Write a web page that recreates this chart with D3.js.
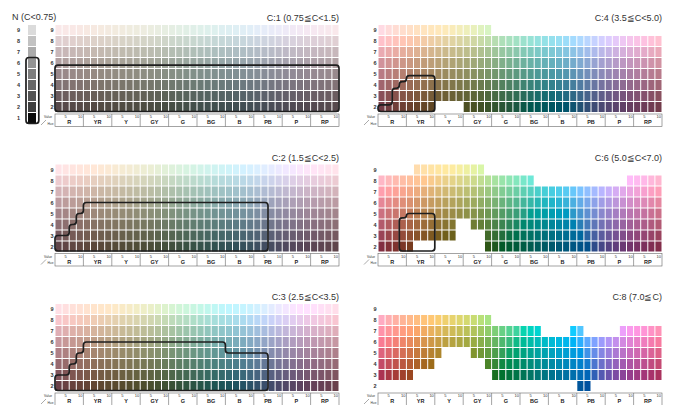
<!DOCTYPE html>
<html>
<head>
<meta charset="utf-8">
<script src="https://cdn.jsdelivr.net/npm/d3@7"></script>
<style>
  body { margin: 0; background: #fff; }
  svg { display: block; font-family: "Liberation Sans", Arial, sans-serif; }
</style>
</head>
<body>
<svg id="chart" width="674" height="405"></svg>
<script>
// ---- Munsell hue circle: 10 families x 4 steps (2.5, 5, 7.5, 10) ----
const families = ["R", "YR", "Y", "GY", "G", "BG", "B", "PB", "P", "RP"];
const hueSteps = ["2.5", "5", "7.5", "10"];
const values = [9, 8, 7, 6, 5, 4, 3, 2];
const neutralValues = [9, 8, 7, 6, 5, 4, 3, 2, 1];

// approximate CIELAB hue angle of each hue column, 2.5R ... 10RP
const hueAngles = [
  12, 22, 31, 40,     // R
  49, 58, 66, 73,     // YR
  80, 87, 92, 98,     // Y
  104, 110, 119, 128, // GY
  138, 148, 156, 164, // G
  174, 184, 194, 204, // BG
  213, 222, 231, 242, // B
  254, 266, 278, 290, // PB
  300, 310, 320, 330, // P
  338, 345, 355, 4    // RP
];

// ---- chroma panels ----
const panelTitles = ["C:1 (0.75≦C<1.5)", "C:2 (1.5≦C<2.5)", "C:3 (2.5≦C<3.5)",
                     "C:4 (3.5≦C<5.0)", "C:6 (5.0≦C<7.0)", "C:8 (7.0≦C)"];
const panelChroma = [1, 2, 3, 4, 6, 8];

// cells present for each value: inclusive hue-column ranges
const full = [[0, 39]];
const cellsC1 = {9: full, 8: full, 7: full, 6: full, 5: full, 4: full, 3: full, 2: full};
const cellsC2 = {9: full, 8: full, 7: full, 6: full, 5: full, 4: full, 3: full, 2: full};
const cellsC3 = {9: full, 8: full, 7: full, 6: full, 5: full, 4: full, 3: full, 2: full};
const cellsC4 = {9: [[0, 15]], 8: full, 7: full, 6: full, 5: full, 4: full, 3: full,
                 2: [[0, 7], [12, 39]]};
const cellsC6 = {9: [[5, 14]], 8: [[0, 21], [35, 39]], 7: full, 6: full, 5: full,
                 4: [[0, 10], [13, 39]], 3: [[0, 10], [15, 39]], 2: [[0, 4], [15, 39]]};
const cellsC8 = {8: [[0, 15]], 7: [[0, 22], [27, 28], [34, 39]], 6: full,
                 5: [[0, 8], [13, 39]], 4: [[0, 7], [15, 39]], 3: [[0, 4], [16, 39]],
                 2: [[28, 29]]};
const panelCells = [cellsC1, cellsC2, cellsC3, cellsC4, cellsC6, cellsC8];

// outlined region: [from column, to column (exclusive), upper value]
const outlineC1 = [[0, 40, 5.8]];
const outlineC2 = [[0, 2, 3], [2, 3, 4], [3, 4, 5], [4, 30, 6]];
const outlineC3 = [[0, 2, 3], [2, 3, 4], [3, 4, 5], [4, 24, 6], [24, 30, 5]];
const outlineC4 = [[0, 2, 2.2], [2, 3, 3.7], [3, 4, 4.3], [4, 8, 4.85]];
const outlineC6 = [[3, 4, 4.6], [4, 8, 5]];
const outlineC8 = [];
const panelOutlines = [outlineC1, outlineC2, outlineC3, outlineC4, outlineC6, outlineC8];

// neutral column outline covers values 1..6
const neutralOutline = [1, 6];

// ---- layout ----
const svg = d3.select("#chart");
const colX0 = [55, 378];
const rowY0 = [24.5, 164, 303.5];
const gridW = 284, gridH = 88;

function lightness(v) { return 8.7 * v + 15; }
function cellColor(col, v, chroma) {
  return d3.hcl(hueAngles[col], chroma * 6.5, lightness(v)).formatHex();
}

function roundedPath(pts, r) {
  const p = d3.path();
  const n = pts.length;
  for (let i = 0; i < n; i++) {
    const p0 = pts[(i - 1 + n) % n], p1 = pts[i], p2 = pts[(i + 1) % n];
    const d1 = Math.hypot(p1[0] - p0[0], p1[1] - p0[1]);
    const d2 = Math.hypot(p2[0] - p1[0], p2[1] - p1[1]);
    const r1 = Math.min(r, d1 / 2), r2 = Math.min(r, d2 / 2);
    const a = [p1[0] + (p0[0] - p1[0]) * r1 / d1, p1[1] + (p0[1] - p1[1]) * r1 / d1];
    const b = [p1[0] + (p2[0] - p1[0]) * r2 / d2, p1[1] + (p2[1] - p1[1]) * r2 / d2];
    if (i === 0) p.moveTo(a[0], a[1]); else p.lineTo(a[0], a[1]);
    p.quadraticCurveTo(p1[0], p1[1], b[0], b[1]);
  }
  p.closePath();
  return p.toString();
}

const textColor = "#333";

panelTitles.forEach((title, i) => {
  const x0 = colX0[i < 3 ? 0 : 1];
  const y0 = rowY0[i % 3];
  const x = d3.scaleLinear().domain([0, 40]).range([x0, x0 + gridW]);
  const y = d3.scaleLinear().domain([9.5, 1.5]).range([y0, y0 + gridH]);
  const cw = x(1) - x(0), rh = y(1) - y(2);
  const g = svg.append("g");

  // cells
  const cellData = [];
  const cells = panelCells[i];
  values.forEach(v => {
    (cells[v] || []).forEach(([a, b]) => {
      for (let c = a; c <= b; c++) cellData.push({c, v});
    });
  });
  g.selectAll("rect.cell").data(cellData).join("rect")
    .attr("class", "cell")
    .attr("x", d => x(d.c) + 0.5)
    .attr("y", d => y(d.v + 0.5) + 0.5)
    .attr("width", cw - 1)
    .attr("height", rh - 1)
    .attr("fill", d => cellColor(d.c, d.v, panelChroma[i]));

  // value labels
  g.selectAll("text.val").data(values).join("text")
    .attr("class", "val")
    .attr("x", x0 - 1.5)
    .attr("y", v => y(v) + 2)
    .attr("text-anchor", "end")
    .attr("font-size", 5.5)
    .attr("font-weight", "bold")
    .attr("fill", textColor)
    .text(v => v);

  // title
  g.append("text")
    .attr("x", x0 + gridW)
    .attr("y", y0 - 3.5)
    .attr("text-anchor", "end")
    .attr("font-size", 9)
    .attr("fill", textColor)
    .text(title);

  // hue axis box
  const bTop = y0 + gridH + 1.5, bBot = y0 + gridH + 14;
  g.append("rect")
    .attr("x", x0).attr("y", bTop)
    .attr("width", gridW).attr("height", bBot - bTop)
    .attr("fill", "none").attr("stroke", "#666").attr("stroke-width", 0.6);
  g.selectAll("line.div").data(d3.range(1, 10)).join("line")
    .attr("class", "div")
    .attr("x1", f => x(f * 4)).attr("x2", f => x(f * 4))
    .attr("y1", bTop).attr("y2", bBot)
    .attr("stroke", "#666").attr("stroke-width", 0.6);
  families.forEach((fam, f) => {
    g.append("text").attr("x", x(f * 4 + 1.5)).attr("y", bTop + 4.2)
      .attr("text-anchor", "middle").attr("font-size", 4).attr("fill", textColor)
      .text(hueSteps[1]);
    g.append("text").attr("x", x(f * 4 + 3.55)).attr("y", bTop + 4.2)
      .attr("text-anchor", "middle").attr("font-size", 4).attr("fill", textColor)
      .text(hueSteps[3]);
    g.append("text").attr("x", x(f * 4 + 2)).attr("y", bTop + 10)
      .attr("text-anchor", "middle").attr("font-size", 5.5).attr("font-weight", "bold")
      .attr("fill", "#222").text(fam);
  });
  // Value / Hue corner label
  g.append("text").attr("x", x0 - 7).attr("y", bTop + 4)
    .attr("text-anchor", "middle").attr("font-size", 3.2).attr("fill", textColor).text("Value");
  g.append("text").attr("x", x0 - 4.5).attr("y", bBot - 2)
    .attr("text-anchor", "middle").attr("font-size", 3.2).attr("fill", textColor).text("Hue");
  g.append("line").attr("x1", x0 - 14).attr("y1", bBot - 1.5)
    .attr("x2", x0 - 9).attr("y2", bTop + 6)
    .attr("stroke", "#555").attr("stroke-width", 0.5);

  // outlined region
  const segs = panelOutlines[i];
  if (segs.length) {
    const yb = y(1.5) - 1;
    const pts = [[x(segs[0][0]), yb]];
    segs.forEach(([a, b, top]) => {
      pts.push([x(a), y(top)]);
      pts.push([x(b), y(top)]);
    });
    pts.push([x(segs[segs.length - 1][1]), yb]);
    g.append("path")
      .attr("d", roundedPath(pts, 3))
      .attr("fill", "none")
      .attr("stroke", "#1e1e1e")
      .attr("stroke-width", 1.7);
  }
});

// ---- neutral column ----
{
  const y = d3.scaleLinear().domain([9.5, 0.5]).range([24.5, 123.5]);
  const rh = y(1) - y(2);
  const ng = svg.append("g");
  ng.append("text").attr("x", 12).attr("y", 19.5)
    .attr("font-size", 9).attr("fill", textColor).text("N (C<0.75)");
  ng.selectAll("rect").data(neutralValues).join("rect")
    .attr("x", 28).attr("y", v => y(v + 0.5) + 0.5)
    .attr("width", 8).attr("height", rh - 1)
    .attr("fill", v => d3.hcl(0, 0, v === 1 ? 3 : lightness(v) - 6).formatHex());
  ng.selectAll("text.val").data(neutralValues).join("text")
    .attr("class", "val")
    .attr("x", 18.5).attr("y", v => y(v) + 2)
    .attr("text-anchor", "middle").attr("font-size", 5.5).attr("font-weight", "bold")
    .attr("fill", textColor).text(v => v);
  ng.append("path")
    .attr("d", roundedPath([[26, y(neutralOutline[1] + 0.5)], [38.8, y(neutralOutline[1] + 0.5)],
                            [38.8, y(neutralOutline[0] - 0.5)], [26, y(neutralOutline[0] - 0.5)]], 3))
    .attr("fill", "none").attr("stroke", "#1e1e1e").attr("stroke-width", 1.7);
}
</script>
</body>
</html>
